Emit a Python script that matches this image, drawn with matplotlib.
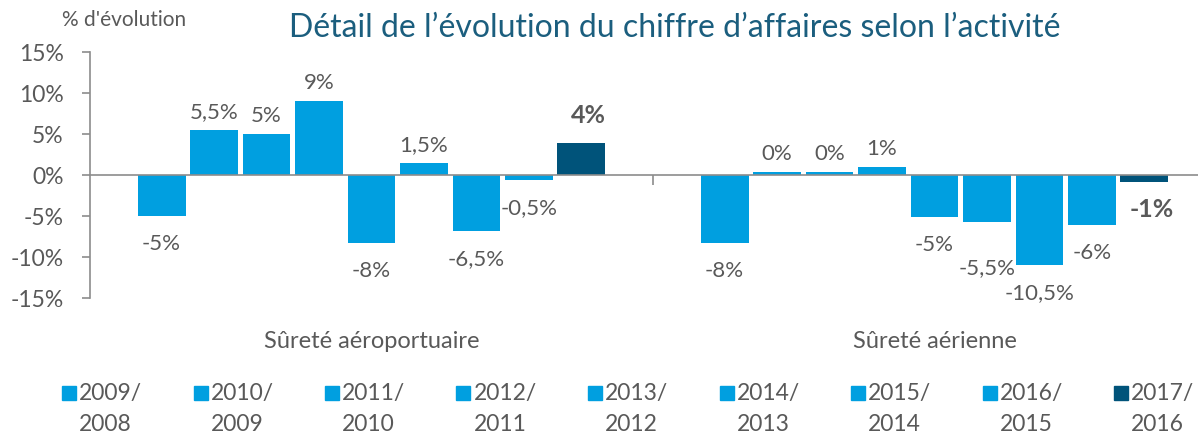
import matplotlib.pyplot as plt
import numpy as np
from matplotlib.patches import Rectangle

plt.rcParams['font.family'] = ['Lato', 'DejaVu Sans']

# ---- data ----
categories = ["Sûreté aéroportuaire", "Sûreté aérienne"]
periods = ["2009/\n2008", "2010/\n2009", "2011/\n2010", "2012/\n2011", "2013/\n2012",
           "2014/\n2013", "2015/\n2014", "2016/\n2015", "2017/\n2016"]
aeroportuaire = [-5, 5.5, 5, 9, -8.3, 1.5, -6.8, -0.6, 3.9]
aerienne = [-8.3, 0.4, 0.4, 1.0, -5.1, -5.7, -11.0, -6.1, -0.85]
labels_aeroportuaire = ["-5%", "5,5%", "5%", "9%", "-8%", "1,5%", "-6,5%", "-0,5%", "4%"]
labels_aerienne = ["-8%", "0%", "0%", "1%", "-5%", "-5,5%", "-10,5%", "-6%", "-1%"]

LIGHT = "#009FE0"
DARK = "#00537A"
GREY = "#595959"
TITLE = "#1B5E7E"

W, H = 1198, 436
fig = plt.figure(figsize=(W / 100, H / 100), dpi=100)
# axes in pixel geometry: y-axis at x=90, +15% at y=52, -15% at y=298
ax = fig.add_axes([90 / W, (H - 298) / H, 1126 / W, 246 / H])

n = len(periods)
slot = 0.0932
bw = 0.085
colors = [LIGHT] * (n - 1) + [DARK]
series = [aeroportuaire, aerienne]
series_labels = [labels_aeroportuaire, labels_aerienne]
nudge = {(1, 5): -18, (0, 8): 10}  # manual label shifts in px

for g, (vals, labs) in enumerate(zip(series, series_labels)):
    xs = g + (np.arange(n) - (n - 1) / 2) * slot
    ax.bar(xs, vals, width=bw, color=colors, zorder=2)
    for i, (x, v, lab) in enumerate(zip(xs, vals, labs)):
        last = i == n - 1
        dy = 18 if v >= 0 else -28
        dy += nudge.get((g, i), 0)
        ax.annotate(lab, (x, v), xytext=(5 if last else 0, dy * 0.72),
                    textcoords="offset points", ha="center", va="center",
                    fontsize=18 if last else 16, fontweight="bold" if last else "normal",
                    color=GREY, annotation_clip=False)

ax.set_xlim(-0.5, 1.5)
ax.set_ylim(-15, 15)
ax.set_yticks(np.arange(-15, 16, 5))
ax.set_yticklabels([f"{t}%" for t in range(-15, 16, 5)])
ax.tick_params(axis="y", colors="#8c8c8c", labelcolor=GREY, labelsize=16.5,
               length=6, width=1.2, pad=13)
ax.set_xticks([0.5])
ax.set_xticklabels([""])
ax.tick_params(axis="x", colors="#8c8c8c", length=7, width=1.2, direction="out")
for s in ["top", "right"]:
    ax.spines[s].set_visible(False)
ax.spines["bottom"].set_position(("data", 0))
ax.spines["bottom"].set_color("#8c8c8c")
ax.spines["bottom"].set_linewidth(1.2)
ax.spines["left"].set_color("#8c8c8c")
ax.spines["left"].set_linewidth(1.2)

for g, cat in enumerate(categories):
    ax.text(g, -20.3, cat, ha="center", va="center", fontsize=17, color=GREY)

fig.text(62 / W, 1 - 20 / H, "% d'évolution", ha="left", va="center",
         fontsize=15, color=GREY)
fig.text(675 / W, 1 - 28 / H, "Détail de l’évolution du chiffre d’affaires selon l’activité",
         ha="center", va="center", fontsize=23, color=TITLE)

# legend drawn entry by entry
for i, (p, c) in enumerate(zip(periods, colors)):
    x0 = 62 + i * 131.5
    fig.patches.append(Rectangle((x0 / W, 1 - 400 / H), 14 / W, 14 / H,
                                 transform=fig.transFigure, color=c))
    fig.text((x0 + 17) / W, 1 - 409 / H, p, ha="left", va="center", fontsize=16.5,
             color=GREY, linespacing=1.6)

fig.savefig("out.png", dpi=100)
